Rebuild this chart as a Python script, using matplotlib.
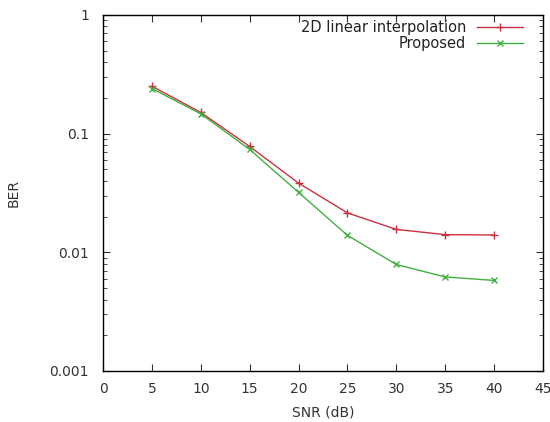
import matplotlib
matplotlib.use("Agg")
import matplotlib.pyplot as plt
from matplotlib.ticker import LogLocator, NullFormatter, FixedLocator

snr = [5, 10, 15, 20, 25, 30, 35, 40]
ber_interp = [0.251, 0.151, 0.078, 0.0383, 0.0215, 0.0156, 0.0141, 0.0140]
ber_prop = [0.240, 0.147, 0.0736, 0.032, 0.0139, 0.0079, 0.0062, 0.0058]
labels = ["2D linear interpolation", "Proposed"]
xticks = [0, 5, 10, 15, 20, 25, 30, 35, 40, 45]
yticks = [0.001, 0.01, 0.1, 1]
ytick_labels = ["0.001", "0.01", "0.1", "1"]

plt.rcParams['font.family'] = ['DejaVu Sans']
W, H = 550, 422
fig = plt.figure(figsize=(5.5, 4.22), dpi=100)
L, R, T, B = 103, 543, 15, 371
ax = fig.add_axes([L / W, 1 - B / H, (R - L) / W, (B - T) / H])

ax.plot(snr, ber_interp, color='#cc3040', lw=1.0, marker='+', ms=6, mew=1.0, label=labels[0])
ax.plot(snr, ber_prop, color='#40b040', lw=1.0, marker='x', ms=5, mew=1.0, label=labels[1])

ax.set_yscale('log')
ax.set_xlim(0, 45)
ax.set_ylim(0.001, 1)
ax.set_xticks(xticks)
ax.set_xticklabels([str(t) for t in xticks])
ax.yaxis.set_major_locator(FixedLocator(yticks))
ax.set_yticklabels(ytick_labels)
ax.yaxis.set_minor_locator(LogLocator(base=10, subs=range(2, 10), numticks=20))
ax.yaxis.set_minor_formatter(NullFormatter())

ax.tick_params(which='both', direction='in', top=True, right=True, labelsize=10,
               colors='#333333', labelcolor='#333333')
ax.tick_params(which='major', length=5, width=0.8)
ax.tick_params(which='minor', length=3, width=0.6)
ax.xaxis.set_tick_params(which='major', pad=8)
ax.yaxis.set_tick_params(which='major', pad=10)
for s in ax.spines.values():
    s.set_color('black')
    s.set_linewidth(1.0)

ax.set_xlabel('SNR (dB)', fontsize=10, color='#333333', labelpad=7)
ax.set_ylabel('BER', fontsize=10, color='#333333', labelpad=21)

leg = ax.legend(loc='upper right', frameon=False, markerfirst=False, numpoints=1,
                fontsize=10.5, handlelength=3.15, borderaxespad=0, borderpad=0,
                labelspacing=0.1, handletextpad=0.75,
                bbox_to_anchor=((523 - L) / (R - L), 1 - 5 / (B - T)))
for t in leg.get_texts():
    t.set_ha('right')
    t.set_color('#222222')
leg._legend_box.align = "right"

fig.savefig('out.png', dpi=100)
